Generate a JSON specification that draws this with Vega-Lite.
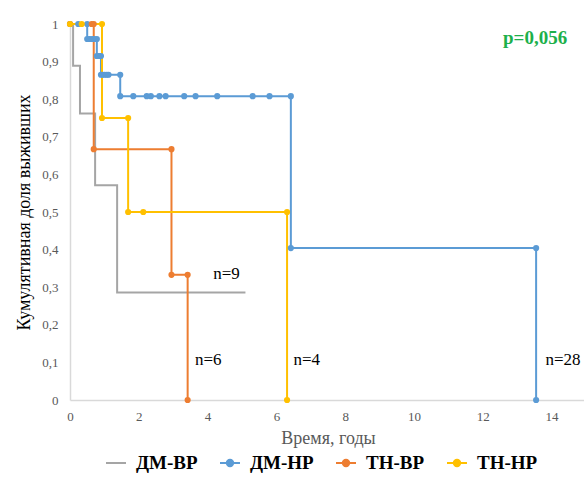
{
  "$schema": "https://vega.github.io/schema/vega-lite/v6.json",
  "autosize": "none",
  "width": 516,
  "height": 376,
  "padding": {"left": 70, "top": 24, "right": 0, "bottom": 84},
  "background": "white",
  "config": {
    "view": {"stroke": null},
    "font": "Liberation Serif",
    "locale": {"number": {"decimal": ",", "thousands": " ", "grouping": [3], "currency": ["", ""]}},
    "axis": {"labelFont": "Liberation Serif", "titleFont": "Liberation Serif", "labelOverlap": false},
    "legend": {"labelFont": "Liberation Serif"},
    "text": {"font": "Liberation Serif"}
  },
  "datasets": {
    "km": [
      {"g": "ДМ-ВР", "i": 0, "t": 0, "s": 1},
      {"g": "ДМ-ВР", "i": 1, "t": 0.09, "s": 1},
      {"g": "ДМ-ВР", "i": 2, "t": 0.09, "s": 0.889},
      {"g": "ДМ-ВР", "i": 3, "t": 0.29, "s": 0.889},
      {"g": "ДМ-ВР", "i": 4, "t": 0.29, "s": 0.762},
      {"g": "ДМ-ВР", "i": 5, "t": 0.73, "s": 0.762},
      {"g": "ДМ-ВР", "i": 6, "t": 0.73, "s": 0.571},
      {"g": "ДМ-ВР", "i": 7, "t": 1.37, "s": 0.571},
      {"g": "ДМ-ВР", "i": 8, "t": 1.37, "s": 0.286},
      {"g": "ДМ-ВР", "i": 9, "t": 5.1, "s": 0.286},

      {"g": "ДМ-НР", "i": 0, "t": 0, "s": 1},
      {"g": "ДМ-НР", "i": 1, "t": 0.24, "s": 1},
      {"g": "ДМ-НР", "i": 2, "t": 0.5, "s": 1},
      {"g": "ДМ-НР", "i": 3, "t": 0.5, "s": 0.96},
      {"g": "ДМ-НР", "i": 4, "t": 0.57, "s": 0.96},
      {"g": "ДМ-НР", "i": 5, "t": 0.64, "s": 0.96},
      {"g": "ДМ-НР", "i": 6, "t": 0.71, "s": 0.96},
      {"g": "ДМ-НР", "i": 7, "t": 0.78, "s": 0.96},
      {"g": "ДМ-НР", "i": 8, "t": 0.78, "s": 0.915},
      {"g": "ДМ-НР", "i": 9, "t": 0.84, "s": 0.915},
      {"g": "ДМ-НР", "i": 10, "t": 0.9, "s": 0.915},
      {"g": "ДМ-НР", "i": 11, "t": 0.9, "s": 0.865},
      {"g": "ДМ-НР", "i": 12, "t": 0.95, "s": 0.865},
      {"g": "ДМ-НР", "i": 13, "t": 1.01, "s": 0.865},
      {"g": "ДМ-НР", "i": 14, "t": 1.07, "s": 0.865},
      {"g": "ДМ-НР", "i": 15, "t": 1.12, "s": 0.865},
      {"g": "ДМ-НР", "i": 16, "t": 1.46, "s": 0.865},
      {"g": "ДМ-НР", "i": 17, "t": 1.46, "s": 0.808},
      {"g": "ДМ-НР", "i": 18, "t": 1.84, "s": 0.808},
      {"g": "ДМ-НР", "i": 19, "t": 2.23, "s": 0.808},
      {"g": "ДМ-НР", "i": 20, "t": 2.35, "s": 0.808},
      {"g": "ДМ-НР", "i": 21, "t": 2.6, "s": 0.808},
      {"g": "ДМ-НР", "i": 22, "t": 2.78, "s": 0.808},
      {"g": "ДМ-НР", "i": 23, "t": 3.32, "s": 0.808},
      {"g": "ДМ-НР", "i": 24, "t": 3.65, "s": 0.808},
      {"g": "ДМ-НР", "i": 25, "t": 4.28, "s": 0.808},
      {"g": "ДМ-НР", "i": 26, "t": 5.31, "s": 0.808},
      {"g": "ДМ-НР", "i": 27, "t": 5.8, "s": 0.808},
      {"g": "ДМ-НР", "i": 28, "t": 6.42, "s": 0.808},
      {"g": "ДМ-НР", "i": 29, "t": 6.42, "s": 0.404},
      {"g": "ДМ-НР", "i": 30, "t": 13.55, "s": 0.404},
      {"g": "ДМ-НР", "i": 31, "t": 13.55, "s": 0},

      {"g": "ТН-ВР", "i": 0, "t": 0, "s": 1},
      {"g": "ТН-ВР", "i": 1, "t": 0.63, "s": 1},
      {"g": "ТН-ВР", "i": 2, "t": 0.69, "s": 1},
      {"g": "ТН-ВР", "i": 3, "t": 0.69, "s": 0.667},
      {"g": "ТН-ВР", "i": 4, "t": 2.95, "s": 0.667},
      {"g": "ТН-ВР", "i": 5, "t": 2.95, "s": 0.333},
      {"g": "ТН-ВР", "i": 6, "t": 3.42, "s": 0.333},
      {"g": "ТН-ВР", "i": 7, "t": 3.42, "s": 0},

      {"g": "ТН-НР", "i": 0, "t": 0, "s": 1},
      {"g": "ТН-НР", "i": 1, "t": 0.34, "s": 1},
      {"g": "ТН-НР", "i": 2, "t": 0.93, "s": 1},
      {"g": "ТН-НР", "i": 3, "t": 0.93, "s": 0.75},
      {"g": "ТН-НР", "i": 4, "t": 1.69, "s": 0.75},
      {"g": "ТН-НР", "i": 5, "t": 1.69, "s": 0.5},
      {"g": "ТН-НР", "i": 6, "t": 2.13, "s": 0.5},
      {"g": "ТН-НР", "i": 7, "t": 6.31, "s": 0.5},
      {"g": "ТН-НР", "i": 8, "t": 6.31, "s": 0}
    ],
    "notes": [
      {"label": "n=9", "t": 4.55, "s": 0.335},
      {"label": "n=6", "t": 4.02, "s": 0.106},
      {"label": "n=4", "t": 6.88, "s": 0.106},
      {"label": "n=28", "t": 14.33, "s": 0.106}
    ],
    "pval": [
      {"label": "p=0,056", "t": 13.52, "s": 0.963}
    ]
  },
  "encoding": {
    "x": {
      "field": "t", "type": "quantitative",
      "scale": {"domain": [0, 15], "nice": false},
      "axis": {
        "values": [0, 2, 4, 6, 8, 10, 12, 14],
        "title": "Время, годы",
        "titleFontSize": 18, "titleFontWeight": "normal",
        "titleColor": "#595959", "titlePadding": 6,
        "labelFontSize": 13, "labelColor": "#595959",
        "labelPadding": 10, "ticks": false, "grid": false, "labelOverlap": false,
        "domainColor": "#D9D9D9", "domainWidth": 1.5, "labelFlush": false
      }
    },
    "y": {
      "field": "s", "type": "quantitative",
      "scale": {"domain": [0, 1], "nice": false},
      "axis": {
        "values": [0, 0.1, 0.2, 0.3, 0.4, 0.5, 0.6, 0.7, 0.8, 0.9, 1],
        "format": "~g",
        "title": "Кумулятивная доля выживших",
        "titleFontSize": 18, "titleFontWeight": "normal",
        "titleColor": "#000000", "titlePadding": 8,
        "labelFontSize": 13, "labelColor": "#595959",
        "labelPadding": 12, "ticks": false, "grid": false, "labelOverlap": false,
        "domainColor": "#D9D9D9", "domainWidth": 1.5, "labelFlush": false
      }
    }
  },
  "layer": [
    {
      "data": {"name": "km"},
      "mark": {"type": "line", "strokeWidth": 2, "clip": false},
      "encoding": {
        "order": {"field": "i", "type": "quantitative"},
        "color": {
          "field": "g", "type": "nominal",
          "scale": {
            "domain": ["ДМ-ВР", "ДМ-НР", "ТН-ВР", "ТН-НР"],
            "range": ["#A5A5A5", "#5B9BD5", "#ED7D31", "#FFC000"]
          },
          "legend": {
            "title": null,
            "orient": "none",
            "direction": "horizontal",
            "legendX": 35,
            "legendY": 428,
            "labelFont": "Liberation Serif",
            "labelFontSize": 19,
            "labelFontWeight": "bold",
            "labelColor": "#000000",
            "labelOffset": 9,
            "columnPadding": 18,
            "symbolSize": 400,
            "symbolStrokeWidth": 2,
            "encode": {
              "symbols": {
                "update": {
                  "shape": {"signal": "datum.value === 'ДМ-ВР' ? 'M-1,0H1' : 'M-1,0H1M0.32,0A0.32,0.32,0,1,1,-0.32,0A0.32,0.32,0,1,1,0.32,0Z'"},
                  "fill": {"signal": "scale('color', datum.value)"},
                  "stroke": {"signal": "scale('color', datum.value)"},
                  "strokeWidth": {"value": 2},
                  "opacity": {"value": 1}
                }
              }
            }
          }
        }
      }
    },
    {
      "data": {"name": "km"},
      "transform": [{"filter": "datum.g !== 'ДМ-ВР'"}],
      "mark": {"type": "circle", "size": 38, "opacity": 1, "clip": false},
      "encoding": {
        "color": {"field": "g", "type": "nominal"}
      }
    },
    {
      "data": {"name": "notes"},
      "mark": {"type": "text", "font": "Liberation Serif", "fontSize": 17, "color": "#000000", "align": "center", "baseline": "middle"},
      "encoding": {
        "text": {"field": "label"}
      }
    },
    {
      "data": {"name": "pval"},
      "mark": {"type": "text", "font": "Liberation Serif", "fontSize": 19, "fontWeight": "bold", "color": "#1DB04B", "align": "center", "baseline": "middle"},
      "encoding": {
        "text": {"field": "label"}
      }
    }
  ]
}
